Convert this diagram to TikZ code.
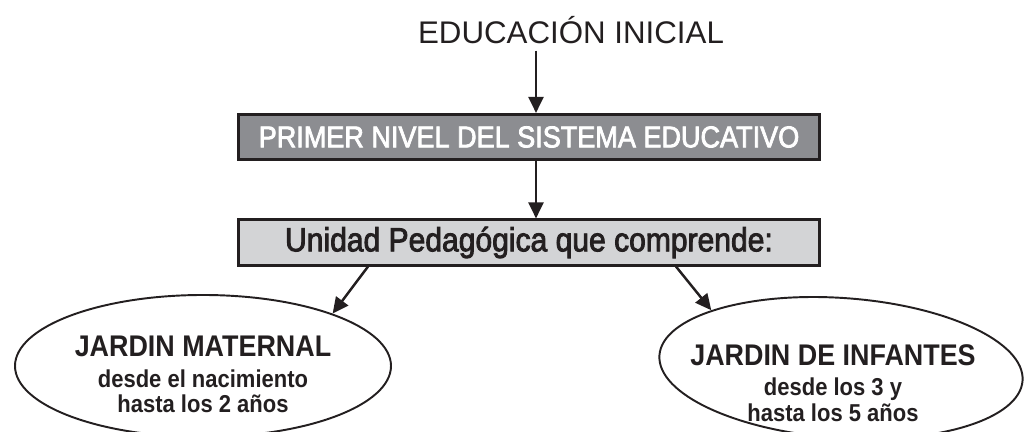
\documentclass[tikz,border=0pt]{standalone}
\usepackage{fontspec}
\setmainfont{Liberation Sans}
\newfontfamily\gothic[FakeStretch=0.9]{Liberation Sans}
\newfontfamily\gothicmed[FakeStretch=0.9, FakeBold=2.5]{Liberation Sans}
\usetikzlibrary{shapes.geometric, arrows.meta}

\definecolor{ink}{HTML}{231F20}
\definecolor{darkfill}{HTML}{8C8D91}
\definecolor{lightfill}{HTML}{D3D4D6}

\begin{document}
\begin{tikzpicture}[
    arr/.style={draw=ink, line width=1.4pt, -{Triangle[length=3.2mm, width=3mm]}},
    level/.style={draw=ink, line width=1.5pt, minimum width=11.62cm, minimum height=0.91cm, inner sep=0pt},
    stage/.style={draw=ink, ellipse, line width=1.1pt, inner sep=0pt},
    stagetext/.style={align=center, anchor=north, inner sep=0pt, text=ink, font=\gothic\fontsize{13.9}{14.6}\selectfont\bfseries}]

  \useasboundingbox (0, 0) rectangle (20.48, 8.64);

  \node [anchor=base, text=ink, font=\fontsize{17.8}{20}\selectfont] (title) at (11.42, 7.76) {EDUCACIÓN INICIAL};

  \node [level, fill=darkfill, text=white, font=\gothicmed\fontsize{17.1}{18}\selectfont] (nivel) at (10.58, 5.90) {PRIMER NIVEL DEL SISTEMA EDUCATIVO};
  \node [level, fill=lightfill, text=ink, font=\gothicmed\fontsize{19.0}{20}\selectfont] (unidad) at (10.58, 3.79) {Unidad Pedagógica que comprende:};

  \node [stage, minimum width=7.52cm, minimum height=2.84cm] (maternal) at (4.06, 1.32) {};
  \node [stage, minimum width=7.28cm, minimum height=2.80cm, rotate=-4] (infantes) at (16.82, 1.28) {};

  \node [stagetext] (maternaltext) at ([yshift=6.0mm]maternal.center)
    {{\fontsize{17.0}{18}\selectfont JARDIN MATERNAL}\\[2.6pt] desde el nacimiento\\ hasta los 2 años};
  \node [stagetext] (infantestext) at ([xshift=-1.6mm, yshift=4.8mm]infantes.center)
    {{\fontsize{17.0}{18}\selectfont JARDIN DE INFANTES}\\[2.6pt] desde los 3 y\\ hasta los 5 años};

  \coordinate (drop) at ([xshift=1.4mm]nivel.north);

  \draw [arr] (title.south -| drop) -- (drop);
  \draw [arr] (nivel.south -| drop) -- (unidad.north -| drop);

  \draw [arr] ([xshift=-3.22cm]unidad.south) -- (maternal.22);
  \draw [arr] ([xshift=2.94cm]unidad.south) -- (infantes.160);

\end{tikzpicture}
\end{document}
